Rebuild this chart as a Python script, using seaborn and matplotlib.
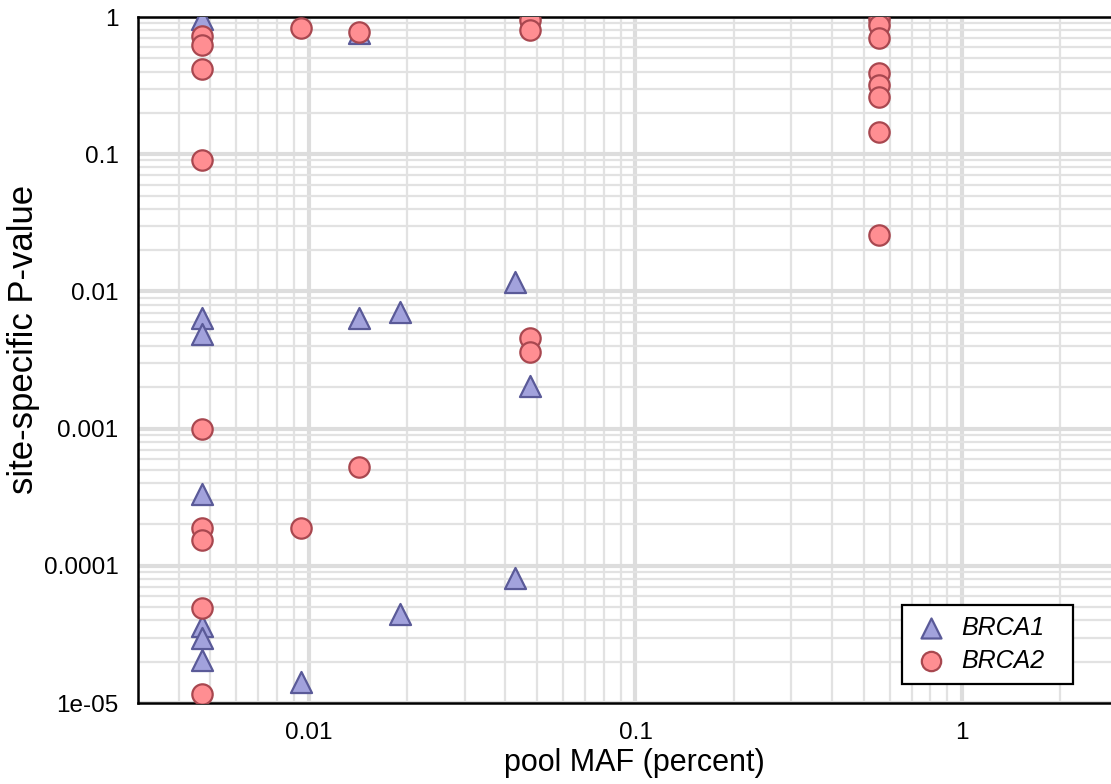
import numpy as np
import pandas as pd
import matplotlib
matplotlib.use("Agg")
import matplotlib.pyplot as plt
from matplotlib.ticker import LogLocator, NullFormatter
import seaborn as sns

# ---- data ----
brca1_maf = [0.0047, 0.0047, 0.0047, 0.0047, 0.0047, 0.0047, 0.0047,
             0.00945, 0.0142, 0.0142, 0.019, 0.019, 0.0428, 0.0428, 0.0475]
brca1_p = [0.97, 0.00635, 0.00493, 0.000334, 3.65e-5, 3.0e-5, 2.06e-5,
           1.42e-5, 0.76, 0.00638, 0.00706, 4.49e-5, 0.0118, 8.2e-5, 0.00206]

brca2_maf = [0.0047, 0.0047, 0.0047, 0.0047, 0.0047, 0.0047, 0.0047, 0.0047, 0.0047,
             0.00945, 0.00945, 0.0142, 0.0142,
             0.0475, 0.0475, 0.0475, 0.0475,
             0.557, 0.557, 0.557, 0.557, 0.557, 0.557, 0.557, 0.557]
brca2_p = [0.73, 0.62, 0.42, 0.0904, 0.000995, 0.00019, 0.000155, 4.9e-5, 1.16e-5,
           0.83, 0.00019, 0.78, 0.000522,
           0.95, 0.80, 0.00459, 0.0036,
           0.97, 0.88, 0.70, 0.39, 0.32, 0.26, 0.144, 0.0256]

genes = ["BRCA1", "BRCA2"]
x_ticks = [0.01, 0.1, 1]
x_ticklabels = ["0.01", "0.1", "1"]
y_ticks = [1e-5, 1e-4, 1e-3, 1e-2, 1e-1, 1]
y_ticklabels = ["1e-05", "0.0001", "0.001", "0.01", "0.1", "1"]

df = pd.DataFrame({
    "maf": brca1_maf + brca2_maf,
    "p": brca1_p + brca2_p,
    "gene": [genes[0]] * len(brca1_maf) + [genes[1]] * len(brca2_maf),
})

# ---- style ----
sns.set_style("white")
plt.rcParams["font.family"] = ["Liberation Sans", "DejaVu Sans"]
plt.rcParams["text.color"] = "black"
plt.rcParams["axes.labelcolor"] = "black"
plt.rcParams["xtick.color"] = "black"
plt.rcParams["ytick.color"] = "black"

fig = plt.figure(figsize=(11.11, 7.84), dpi=100)
ax = fig.add_axes([138 / 1111, 81 / 784, 980 / 1111, 686 / 784])

fill = {"BRCA1": "#a2a2dc", "BRCA2": "#ff8e92"}
edge = {"BRCA1": "#5a5a98", "BRCA2": "#a8474f"}

ax.set_xscale("log")
ax.set_yscale("log")

for g, mk, s in [("BRCA1", "^", 230), ("BRCA2", "o", 215)]:
    sub = df[df["gene"] == g]
    sns.scatterplot(data=sub, x="maf", y="p", marker=mk, s=s,
                    color=fill[g], edgecolor=edge[g], linewidth=1.6,
                    ax=ax, label=g, zorder=3, clip_on=True)

ax.set_xlim(0.003, 3)
ax.set_ylim(1e-5, 1)

ax.xaxis.set_minor_locator(LogLocator(base=10, subs=np.arange(2, 10), numticks=20))
ax.yaxis.set_minor_locator(LogLocator(base=10, subs=np.arange(2, 10), numticks=20))
ax.xaxis.set_minor_formatter(NullFormatter())
ax.yaxis.set_minor_formatter(NullFormatter())
ax.set_xticks(x_ticks, x_ticklabels)
ax.set_yticks(y_ticks, y_ticklabels)

ax.grid(which="major", color="#dddddd", linewidth=3.0, zorder=0)
ax.grid(which="minor", color="#e2e2e2", linewidth=1.6, zorder=0)
ax.set_axisbelow(True)

ax.tick_params(which="both", length=0)
ax.tick_params(axis="y", pad=14, labelsize=17.5)
ax.tick_params(axis="x", pad=14, labelsize=17.5)

for sp in ax.spines.values():
    sp.set_color("black")
    sp.set_linewidth(1.8)

ax.set_xlabel("pool MAF (percent)", fontsize=22)
ax.set_ylabel("site-specific P-value", fontsize=25)
ax.xaxis.set_label_coords(0.506, -0.066)
ax.yaxis.set_label_coords(-0.100, 0.53)

handles, labels = ax.get_legend_handles_labels()
leg = ax.legend(handles, labels, loc="lower left",
                bbox_to_anchor=(764 / 980, 0.028, 171 / 980, 0.115), mode="expand",
                borderaxespad=0, frameon=True, fancybox=False, framealpha=1,
                edgecolor="black", prop={"style": "italic", "size": 18},
                handletextpad=0.5, borderpad=0.45, labelspacing=0.35,
                handlelength=1.4, markerscale=0.95)
leg.get_frame().set_linewidth(1.6)

fig.savefig("out.png", dpi=100)
